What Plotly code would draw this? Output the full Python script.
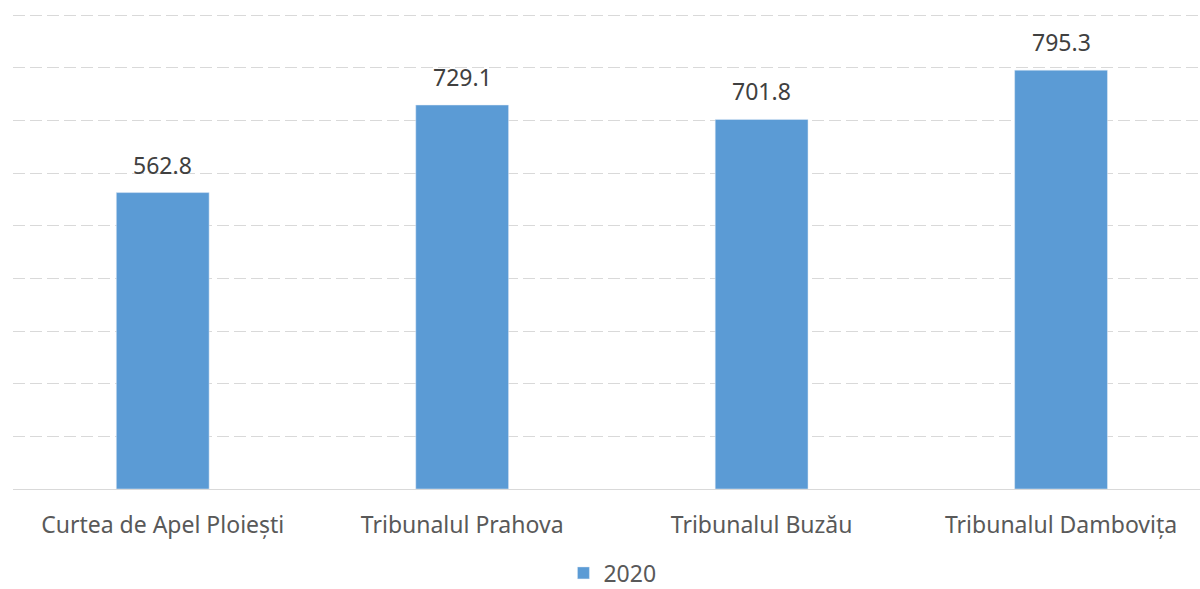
import plotly.graph_objects as go

categories = ["Curtea de Apel Ploiești", "Tribunalul Prahova", "Tribunalul Buzău", "Tribunalul Dambovița"]
values_2020 = [562.8, 729.1, 701.8, 795.3]
series_name = "2020"
label_texts = [f"{v:.1f}" for v in values_2020]

fig = go.Figure()
fig.add_trace(go.Bar(
    x=categories, y=values_2020, name=series_name,
    marker_color="#5B9BD5",
    cliponaxis=False,
))
for c, v, t in zip(categories, values_2020, label_texts):
    fig.add_annotation(x=c, y=v, text=t, showarrow=False, yanchor="middle", yshift=28,
                       font=dict(size=23, color="#404040", family="Noto Sans"))

fig.update_layout(
    width=1200, height=589,
    margin=dict(l=13, r=0, t=12, b=100, autoexpand=False),
    paper_bgcolor="white", plot_bgcolor="white",
    bargap=0.69,
    showlegend=True,
    legend=dict(orientation="h", x=0.505, xanchor="center", y=-0.176, yanchor="middle",
                font=dict(size=23, color="#595959", family="Noto Sans")),
    font=dict(family="Noto Sans", color="#595959"),
)
fig.update_yaxes(range=[0, 905.7], tickvals=[100, 200, 300, 400, 500, 600, 700, 800, 900],
                 showticklabels=False,
                 gridcolor="#D9D9D9", griddash="12px,5px", gridwidth=1, zeroline=False)
fig.update_xaxes(range=[-0.5, 3.464], showline=True, linecolor="#D9D9D9", linewidth=1,
                 tickfont=dict(size=23, color="#595959", family="Noto Sans"), ticks="",
                 ticklabelstandoff=15, automargin=False)
fig.write_html("out.html", config={"displayModeBar": False},
               post_script="document.body.style.margin='0';")
